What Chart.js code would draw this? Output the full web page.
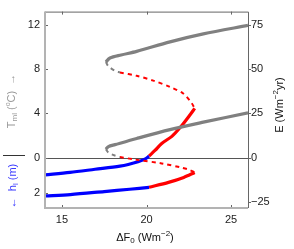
<!DOCTYPE html>
<html>
<head>
<meta charset="utf-8">
<script src="https://cdn.jsdelivr.net/npm/chart.js@4"></script>
<style>
  body { margin: 0; background: #fff; }
  canvas { display: block; }
</style>
</head>
<body>
<canvas id="chart" width="294" height="249"></canvas>
<script>
// curves, x = dF0, y in E units (left axis labels map onto the same scale)
const grayUpperX = [17.6, 17.84, 18.5, 19.42, 21.39, 23.36, 26];
const grayUpperY = [54.0, 56.3, 58.0, 60.0, 65.4, 69.9, 74.7];
const grayUpperDashX = [17.6, 17.74, 18.14, 18.43];
const grayUpperDashY = [54.0, 51.7, 49.0, 48.1];
const redUpperDashX = [18.43, 19.42, 20.4, 21.39, 22.17, 22.67, 22.85];
const redUpperDashY = [48.1, 46.2, 43.5, 39.9, 36.2, 30.8, 27.8];
const redUpperX = [22.85, 22.6, 22.0, 21.5, 20.9, 20.5, 20.15];
const redUpperY = [27.8, 24.5, 17.1, 12.0, 8.0, 4.0, 0.8];
const blueUpperX = [14, 15.48, 16.96, 18.43, 18.92, 19.5, 19.9, 20.15];
const blueUpperY = [-9.8, -8.4, -6.6, -4.8, -3.9, -2.4, -0.9, 0.8];

const grayLowerX = [17.6, 17.75, 18.14, 19.42, 21.39, 23.36, 26];
const grayLowerY = [4.7, 6.2, 7.3, 10.8, 15.8, 20.0, 25.3];
const grayLowerDashX = [17.6, 17.74, 18.14, 18.43];
const grayLowerDashY = [4.7, 2.9, 1.1, 0.3];
const redLowerDashX = [18.43, 19.32, 20.9, 22.08, 22.5, 22.85];
const redLowerDashY = [0.3, -1.1, -3.3, -5.7, -6.8, -8.4];
const blueLowerX = [14, 15.5, 17.5, 19, 20.15];
const blueLowerY = [-21.7, -20.9, -19.2, -17.9, -16.8];
const redLowerX = [20.15, 21.3, 22.2, 22.85];
const redLowerY = [-16.8, -14.0, -11.2, -8.4];

// ticks
const xTicks = [15, 20, 25];
const leftTickPos = [75, 50, 25, 0, -20];
const leftTickLabels = ['12', '8', '4', '0', '2'];
const rightTicks = [75, 50, 25, 0, -25];

const pts = (xs, ys) => xs.map((x, i) => ({ x: x, y: ys[i] }));

const curve = (xs, ys, color, dashed) => ({
  data: pts(xs, ys),
  showLine: true,
  borderColor: color,
  borderWidth: dashed ? 2 : 3.2,
  borderDash: dashed ? [4, 4] : [],
  pointRadius: 0,
  tension: 0.3,
  borderCapStyle: 'butt',
  yAxisID: 'y'
});

const FONT = '"Liberation Sans", Arial, sans-serif';

// draws text made of runs (normal / sub / superscript)
function drawRuns(ctx, runs, cx, cy, color) {
  let total = 0;
  runs.forEach(r => {
    ctx.font = r.size + 'px ' + FONT;
    r.w = ctx.measureText(r.t).width;
    total += r.w;
  });
  let x = cx - total / 2;
  ctx.fillStyle = color;
  ctx.textBaseline = 'middle';
  ctx.textAlign = 'left';
  runs.forEach(r => {
    ctx.font = r.size + 'px ' + FONT;
    ctx.fillText(r.t, x, cy + (r.dy || 0));
    x += r.w;
  });
}

const framePlugin = {
  id: 'frame',
  beforeDatasetsDraw(chart) {
    const { ctx, chartArea: a, scales } = chart;
    const y0 = scales.y.getPixelForValue(0);
    ctx.save();
    ctx.strokeStyle = '#555';
    ctx.lineWidth = 1;
    ctx.beginPath();
    ctx.moveTo(a.left, Math.round(y0) + 0.5);
    ctx.lineTo(a.right, Math.round(y0) + 0.5);
    ctx.stroke();
    ctx.restore();
  },
  afterDraw(chart) {
    const { ctx, chartArea: a, scales } = chart;
    ctx.save();
    // top and right border
    ctx.strokeStyle = '#666';
    ctx.lineWidth = 1;
    ctx.beginPath();
    ctx.moveTo(a.left, a.top + 0.5);
    ctx.lineTo(a.right + 0.5, a.top + 0.5);
    ctx.lineTo(a.right + 0.5, a.bottom);
    ctx.stroke();
    // right ticks, outward
    rightTicks.forEach(v => {
      const py = Math.round(scales.y2.getPixelForValue(v)) + 0.5;
      ctx.beginPath();
      ctx.moveTo(a.right, py);
      ctx.lineTo(a.right + 3, py);
      ctx.stroke();
    });
    // top ticks
    xTicks.forEach(v => {
      const px = Math.round(scales.x.getPixelForValue(v)) + 0.5;
      ctx.beginPath();
      ctx.moveTo(px, a.top);
      ctx.lineTo(px, a.top + 3);
      ctx.stroke();
      ctx.beginPath();
      ctx.moveTo(px, a.bottom);
      ctx.lineTo(px, a.bottom - 3);
      ctx.stroke();
    });
    leftTickPos.forEach(v => {
      const py = Math.round(scales.y.getPixelForValue(v)) + 0.5;
      ctx.beginPath();
      ctx.moveTo(a.left, py);
      ctx.lineTo(a.left + 3, py);
      ctx.stroke();
    });
    // left and bottom axes, light gray
    ctx.strokeStyle = '#b3b3b3';
    ctx.lineWidth = 2;
    ctx.beginPath();
    ctx.moveTo(a.left, a.top);
    ctx.lineTo(a.left, a.bottom);
    ctx.lineTo(a.right, a.bottom);
    ctx.stroke();

    // left titles
    ctx.save();
    ctx.translate(12, 101);
    ctx.rotate(-Math.PI / 2);
    drawRuns(ctx, [
      { t: 'T', size: 11 }, { t: 'ml', size: 8, dy: 3 },
      { t: ' (', size: 11 }, { t: 'o', size: 7, dy: -4 },
      { t: 'C)  \u2192', size: 11 }
    ], 0, 0, '#9a9a9a');
    ctx.restore();

    ctx.save();
    ctx.translate(13, 186);
    ctx.rotate(-Math.PI / 2);
    drawRuns(ctx, [
      { t: '\u2190  h', size: 11 }, { t: 'l', size: 8, dy: 3 },
      { t: ' (m)', size: 11 }
    ], 0, 0, '#3a3aff');
    ctx.restore();

    ctx.strokeStyle = '#333';
    ctx.lineWidth = 1;
    ctx.beginPath();
    ctx.moveTo(3, 155.5);
    ctx.lineTo(25, 155.5);
    ctx.stroke();

    // right title
    ctx.save();
    ctx.translate(280, 105);
    ctx.rotate(-Math.PI / 2);
    drawRuns(ctx, [
      { t: 'E (Wm', size: 11 }, { t: '\u22122', size: 8, dy: -4 },
      { t: 'yr)', size: 11 }
    ], 0, 0, '#111');
    ctx.restore();

    // x title
    drawRuns(ctx, [
      { t: '\u0394F', size: 11 }, { t: '0', size: 8, dy: 3 },
      { t: ' (Wm', size: 11 }, { t: '\u22122', size: 8, dy: -4 },
      { t: ')', size: 11 }
    ], 145, 238, '#111');
    ctx.restore();
  }
};

new Chart(document.getElementById('chart').getContext('2d'), {
  type: 'scatter',
  data: {
    datasets: [
      curve(grayUpperX, grayUpperY, '#808080', false),
      curve(grayUpperDashX, grayUpperDashY, '#808080', true),
      curve(redUpperDashX, redUpperDashY, '#ff0000', true),
      curve(grayLowerX, grayLowerY, '#808080', false),
      curve(grayLowerDashX, grayLowerDashY, '#808080', true),
      curve(redLowerDashX, redLowerDashY, '#ff0000', true),
      curve(blueUpperX, blueUpperY, '#0000ff', false),
      curve(blueLowerX, blueLowerY, '#0000ff', false),
      curve(redUpperX, redUpperY, '#ff0000', false),
      curve(redLowerX, redLowerY, '#ff0000', false)
    ]
  },
  options: {
    responsive: false,
    animation: false,
    layout: { padding: { top: 5, left: 0, right: 0, bottom: 0 } },
    plugins: { legend: { display: false }, tooltip: { enabled: false } },
    scales: {
      x: {
        type: 'linear', min: 14, max: 26,
        grid: { display: false, drawTicks: false },
        border: { display: false },
        afterBuildTicks: s => { s.ticks = xTicks.map(v => ({ value: v })); },
        afterFit: s => { s.height = 41; },
        ticks: { padding: 5, color: '#222', font: { family: FONT, size: 11 } }
      },
      y: {
        type: 'linear', position: 'left', min: -28.5, max: 82.5,
        grid: { display: false, drawTicks: false },
        border: { display: false },
        afterBuildTicks: s => { s.ticks = leftTickPos.map(v => ({ value: v })); },
        afterFit: s => { s.width = 45; },
        ticks: {
          padding: 5, color: '#222', font: { family: FONT, size: 11 },
          callback: v => leftTickLabels[leftTickPos.indexOf(v)]
        }
      },
      y2: {
        type: 'linear', position: 'right', min: -28.5, max: 82.5,
        grid: { display: false, drawTicks: false },
        border: { display: false },
        afterBuildTicks: s => { s.ticks = rightTicks.map(v => ({ value: v })); },
        afterFit: s => { s.width = 46; },
        ticks: {
          padding: 3, color: '#222', font: { family: FONT, size: 11 },
          callback: v => (v < 0 ? '\u2212' + Math.abs(v) : String(v))
        }
      }
    }
  },
  plugins: [framePlugin]
});
</script>
</body>
</html>
